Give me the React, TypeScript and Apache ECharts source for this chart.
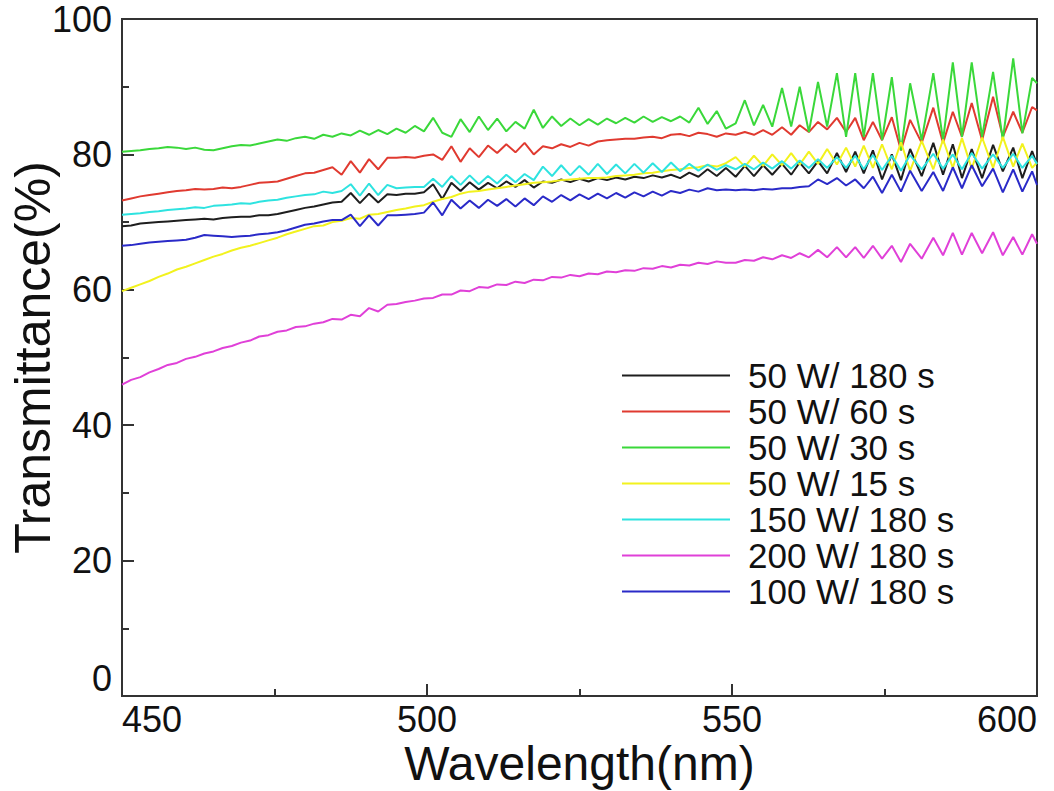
import React, { useEffect, useRef } from "react";
import * as echarts from "echarts";

const wavelengths = [
  450, 451.5, 453, 454.5, 456, 457.5, 459, 460.5, 462, 463.5,
  465, 466.5, 468, 469.5, 471, 472.5, 474, 475.5, 477, 478.5,
  480, 481.5, 483, 484.5, 486, 487.5, 489, 490.5, 492, 493.5,
  495, 496.5, 498, 499.5, 501, 502.5, 504, 505.5, 507, 508.5,
  510, 511.5, 513, 514.5, 516, 517.5, 519, 520.5, 522, 523.5,
  525, 526.5, 528, 529.5, 531, 532.5, 534, 535.5, 537, 538.5,
  540, 541.5, 543, 544.5, 546, 547.5, 549,
  550.6, 552.1, 553.6, 555.1, 556.6, 558.2, 559.7, 561.1, 562.6, 564.1,
  565.6, 567.2, 568.7, 570.2, 571.6, 573.1, 574.6, 576.2, 577.7, 579.2,
  581.1, 583.0, 584.6, 586.2, 587.7, 589.3, 591.0, 592.8, 594.4, 596.1,
  597.6, 599.2, 600,
];

const w50s180 = [
  69.4, 69.5, 69.8, 69.9, 70.0, 70.1, 70.2, 70.3, 70.4, 70.5,
  70.4, 70.6, 70.7, 70.8, 70.8, 71.0, 71.0, 71.2, 71.5, 71.8,
  72.1, 72.3, 72.6, 72.9, 73.0, 74.3, 72.8, 74.2, 72.9, 74.1,
  74.0, 74.2, 74.2, 74.4, 75.6, 73.4, 75.8, 74.6, 75.9, 74.8,
  75.8, 75.0, 76.0, 75.2, 76.2, 75.1, 76.0, 75.8, 76.3, 75.9,
  76.4, 76.0, 76.5, 76.2, 76.6, 76.3, 76.7, 76.5, 76.9, 76.6,
  77.0, 76.5, 77.3, 76.7, 77.8, 76.8, 78.0,
  76.7, 78.3, 76.8, 78.4, 77.0, 78.6, 77.0, 78.8, 77.2, 79.0,
  77.2, 80.2, 77.4, 80.4, 77.2, 80.6, 76.3, 80.0, 76.2, 80.8,
  76.8, 81.7, 77.0, 81.5, 76.5, 80.8, 76.5, 81.4, 77.5, 81.0,
  76.5, 80.5, 78.5,
];

const w50s60 = [
  73.2, 73.5, 73.8, 74.0, 74.2, 74.4, 74.6, 74.7, 74.9, 74.8,
  74.9, 75.1, 75.0, 75.2, 75.5, 75.8, 75.9, 76.0, 76.4, 76.8,
  77.2, 77.3, 77.7, 78.1, 77.0, 79.0, 77.3, 79.3, 77.8, 79.5,
  79.5, 79.6, 79.5, 79.8, 80.0, 79.2, 81.2, 78.9, 80.9, 79.6,
  81.3, 80.2, 81.5, 80.3, 81.7, 80.0, 81.2, 80.9, 81.5, 81.1,
  81.7, 81.3, 81.9, 82.1, 82.2, 82.3, 82.3, 82.5, 82.6, 82.4,
  82.9, 83.0, 82.7, 83.2, 83.0, 82.6, 83.1,
  82.9, 83.3, 82.9, 83.6, 82.9, 84.0, 82.9, 84.3, 83.3, 84.8,
  83.7, 85.4, 83.3, 85.4, 82.1, 84.8, 82.1, 85.5, 80.6, 85.1,
  81.7, 86.9, 81.7, 86.3, 82.6, 87.6, 82.1, 88.5, 82.6, 86.3,
  83.2, 87.0, 86.5,
];

const w50s30 = [
  80.4, 80.5, 80.6, 80.8, 80.9, 81.1, 81.0, 80.8, 81.0, 80.7,
  80.6, 80.9, 81.2, 81.4, 81.3, 81.6, 81.9, 82.2, 82.0, 82.4,
  82.6, 82.3, 82.9, 82.6, 83.1, 82.8, 83.5, 82.9, 83.6, 83.0,
  83.8, 83.2, 84.2, 83.4, 85.4, 83.2, 82.6, 85.2, 83.3, 85.6,
  83.6, 85.3, 83.4, 84.8, 83.8, 86.6, 83.9, 85.6, 84.2, 85.3,
  84.3, 85.2, 84.4, 85.3, 84.6, 85.4, 84.7, 85.6, 84.8, 85.5,
  84.9, 85.6, 84.7, 86.9, 84.5, 86.4, 83.8,
  84.6, 88.0, 84.3, 87.3, 84.1, 89.8, 84.1, 90.0, 83.3, 90.7,
  84.1, 92.0, 82.6, 92.0, 82.6, 92.0, 82.1, 91.4, 80.6, 90.5,
  82.1, 92.0, 82.1, 93.6, 82.6, 93.6, 82.6, 92.2, 82.1, 94.2,
  83.1, 91.3, 90.5,
];

const w50s15 = [
  59.8, 60.3, 60.8, 61.3, 61.9, 62.4, 63.0, 63.4, 63.9, 64.4,
  64.9, 65.3, 65.8, 66.2, 66.5, 66.9, 67.3, 67.7, 68.2, 68.6,
  69.0, 69.4, 69.5, 70.0, 70.2, 70.6, 70.5, 71.1, 71.2, 71.5,
  71.8, 72.0, 72.3, 72.5, 73.0, 73.4, 73.7, 74.2, 74.5, 74.6,
  74.8, 75.0, 75.2, 75.4, 75.6, 75.8, 75.9, 76.0, 76.2, 76.3,
  76.4, 76.5, 76.5, 76.6, 76.8, 76.9, 77.0, 77.2, 77.3, 77.5,
  77.7, 77.8, 78.0, 78.1, 78.4, 78.2, 78.7,
  79.6, 78.2, 79.8, 78.3, 80.0, 78.4, 80.2, 78.5, 80.4, 78.6,
  80.8, 78.5, 81.0, 78.2, 81.3, 78.0, 81.5, 77.8, 81.8, 77.6,
  82.0, 77.8, 82.2, 78.0, 82.4, 77.9, 82.5, 78.0, 82.6, 78.2,
  81.6, 78.0, 78.8,
];

const w150s180 = [
  71.1, 71.2, 71.3, 71.5, 71.6, 71.8, 71.9, 72.0, 72.2, 72.1,
  72.4, 72.5, 72.6, 72.8, 72.7, 73.0, 73.2, 73.3, 73.6, 73.8,
  74.0, 74.1, 74.5, 74.3, 74.6, 75.6, 73.9, 75.7, 74.0, 75.5,
  75.0, 75.1, 75.2, 75.2, 76.4, 75.2, 76.8, 75.5, 76.9, 75.6,
  76.8, 75.7, 77.0, 75.9, 77.1, 76.2, 78.2, 76.8, 78.4, 76.9,
  78.3, 77.0, 78.6, 77.1, 78.5, 77.2, 78.6, 77.3, 78.7, 77.4,
  78.8, 77.5, 78.6, 77.6, 78.5, 77.7, 78.4,
  77.8, 78.6, 77.8, 78.8, 77.9, 79.0, 77.9, 79.1, 78.0, 79.3,
  78.0, 79.6, 78.0, 79.8, 77.8, 79.9, 77.7, 79.8, 77.6, 79.9,
  77.8, 80.1, 77.9, 80.0, 77.8, 80.2, 77.9, 80.0, 78.0, 80.1,
  78.0, 79.8, 78.6,
];

const w200s180 = [
  46.0, 46.7, 47.1, 47.8, 48.3, 48.9, 49.2, 49.8, 50.1, 50.6,
  50.9, 51.4, 51.7, 52.2, 52.5, 53.1, 53.3, 53.8, 54.0, 54.5,
  54.6, 55.0, 55.2, 55.7, 55.6, 56.3, 56.1, 57.3, 56.8, 57.8,
  57.9, 58.2, 58.4, 58.7, 58.8, 59.3, 59.3, 59.9, 59.8, 60.4,
  60.3, 60.8, 60.7, 61.2, 61.0, 61.5, 61.4, 61.9, 61.8, 62.2,
  62.0, 62.4, 62.3, 62.7, 62.6, 62.9, 62.8, 63.2, 63.1, 63.5,
  63.3, 63.7, 63.6, 64.0, 63.8, 64.2, 64.0,
  64.0, 64.4, 64.3, 64.8, 64.5, 65.1, 64.7, 65.4, 64.8, 65.9,
  64.8, 66.3, 64.8, 66.3, 64.7, 66.5, 64.6, 66.5, 64.1, 66.8,
  64.6, 67.7, 65.1, 68.4, 65.2, 68.4, 65.4, 68.5, 65.1, 67.8,
  65.2, 68.2, 66.8,
];

const w100s180 = [
  66.5, 66.6, 66.8, 67.0, 67.1, 67.2, 67.3, 67.4, 67.7, 68.1,
  68.0, 67.9, 67.8, 67.9, 68.0, 68.2, 68.3, 68.5, 68.8, 69.2,
  69.6, 69.8, 70.1, 70.3, 70.3, 71.1, 69.4, 71.0, 69.5, 71.0,
  71.0, 71.1, 71.2, 71.4, 72.9, 71.0, 73.3, 72.0, 73.2, 72.1,
  73.3, 72.4, 73.4, 72.3, 73.5, 72.5, 73.8, 73.0, 74.0, 73.2,
  74.1, 73.4, 74.2, 73.5, 74.3, 73.6, 74.4, 73.8, 74.5, 73.9,
  74.6, 74.3, 74.8, 74.5, 75.0, 74.7, 74.8,
  74.7, 74.8, 74.7, 74.9, 74.8, 75.0, 75.0, 75.2, 75.3, 76.3,
  75.6, 76.5, 75.4, 76.3, 75.0, 76.7, 74.3, 77.0, 74.5, 77.6,
  74.6, 77.4, 74.6, 78.1, 75.0, 78.4, 75.3, 77.9, 74.4, 77.8,
  74.5, 77.5, 75.5,
];

const seriesNames = [
  "50 W/ 180 s",
  "50 W/ 60 s",
  "50 W/ 30 s",
  "50 W/ 15 s",
  "150 W/ 180 s",
  "200 W/ 180 s",
  "100 W/ 180 s",
];
const seriesValues = [w50s180, w50s60, w50s30, w50s15, w150s180, w200s180, w100s180];
const seriesColors = ["#1e1e1e", "#e03a30", "#3ad83a", "#f2f21e", "#2ee3e0", "#e040d8", "#2a2ac8"];

const xTicks = { min: 450, max: 600, interval: 50 };
const yTicks = { min: 0, max: 100, interval: 20 };

const FONT = "'Liberation Sans', Arial, sans-serif";

export default function App() {
  const ref = useRef<HTMLDivElement>(null);
  useEffect(() => {
    if (!ref.current) return;
    const chart = echarts.init(ref.current, undefined, { renderer: "svg" });
    const series = seriesNames.map((name, k) => ({
      name,
      type: "line",
      symbol: "none",
      smooth: false,
      color: seriesColors[k],
      lineStyle: { width: 2, color: seriesColors[k] },
      data: wavelengths.map((w, i) => [w, seriesValues[k][i]]),
      z: 3,
    }));
    chart.setOption({
      animation: false,
      backgroundColor: "#ffffff",
      grid: {
        left: 122,
        right: 17,
        top: 19,
        bottom: 95,
        containLabel: false,
        outerBoundsMode: "none",
        show: true,
        borderColor: "#333",
        borderWidth: 2,
        backgroundColor: "transparent",
      },
      legend: {
        orient: "vertical",
        left: 617,
        top: 353,
        icon: "rect",
        itemWidth: 108,
        itemHeight: 2,
        itemGap: 1,
        data: seriesNames,
        textStyle: {
          fontFamily: FONT,
          fontSize: 35,
          lineHeight: 32,
          color: "#111",
          padding: [0, 0, 0, 13],
        },
      },
      xAxis: {
        type: "value",
        min: xTicks.min,
        max: xTicks.max,
        interval: xTicks.interval,
        name: "Wavelength(nm)",
        nameLocation: "middle",
        nameGap: 43,
        nameMoveOverlap: false,
        nameTextStyle: { fontFamily: FONT, fontSize: 48, color: "#111", lineHeight: 48 },
        axisLine: { show: true, onZero: false, lineStyle: { color: "#333", width: 2 } },
        axisTick: { show: true, inside: true, length: 12, lineStyle: { color: "#333", width: 2 } },
        minorTick: { show: true, splitNumber: 2, length: 7, lineStyle: { color: "#333", width: 2 } },
        axisLabel: {
          fontFamily: FONT,
          fontSize: 36,
          color: "#111",
          margin: 6,
          lineHeight: 34,
          alignMinLabel: "left",
          alignMaxLabel: "right",
        },
        splitLine: { show: false },
      },
      yAxis: {
        type: "value",
        min: yTicks.min,
        max: yTicks.max,
        interval: yTicks.interval,
        name: "Transmittance(%)",
        nameLocation: "middle",
        nameGap: 64,
        nameMoveOverlap: false,
        nameTextStyle: { fontFamily: FONT, fontSize: 50, color: "#111" },
        axisLine: { show: true, onZero: false, lineStyle: { color: "#333", width: 2 } },
        axisTick: { show: true, inside: true, length: 12, lineStyle: { color: "#333", width: 2 } },
        minorTick: { show: true, splitNumber: 2, length: 7, lineStyle: { color: "#333", width: 2 } },
        axisLabel: {
          fontFamily: FONT,
          fontSize: 36,
          color: "#111",
          margin: 10,
          verticalAlignMinLabel: "bottom",
        },
        splitLine: { show: false },
      },
      series,
    });
    return () => chart.dispose();
  }, []);
  return (
    <div
      ref={ref}
      style={{ position: "fixed", left: 0, top: 0, width: 1054, height: 791, background: "#fff" }}
    />
  );
}
